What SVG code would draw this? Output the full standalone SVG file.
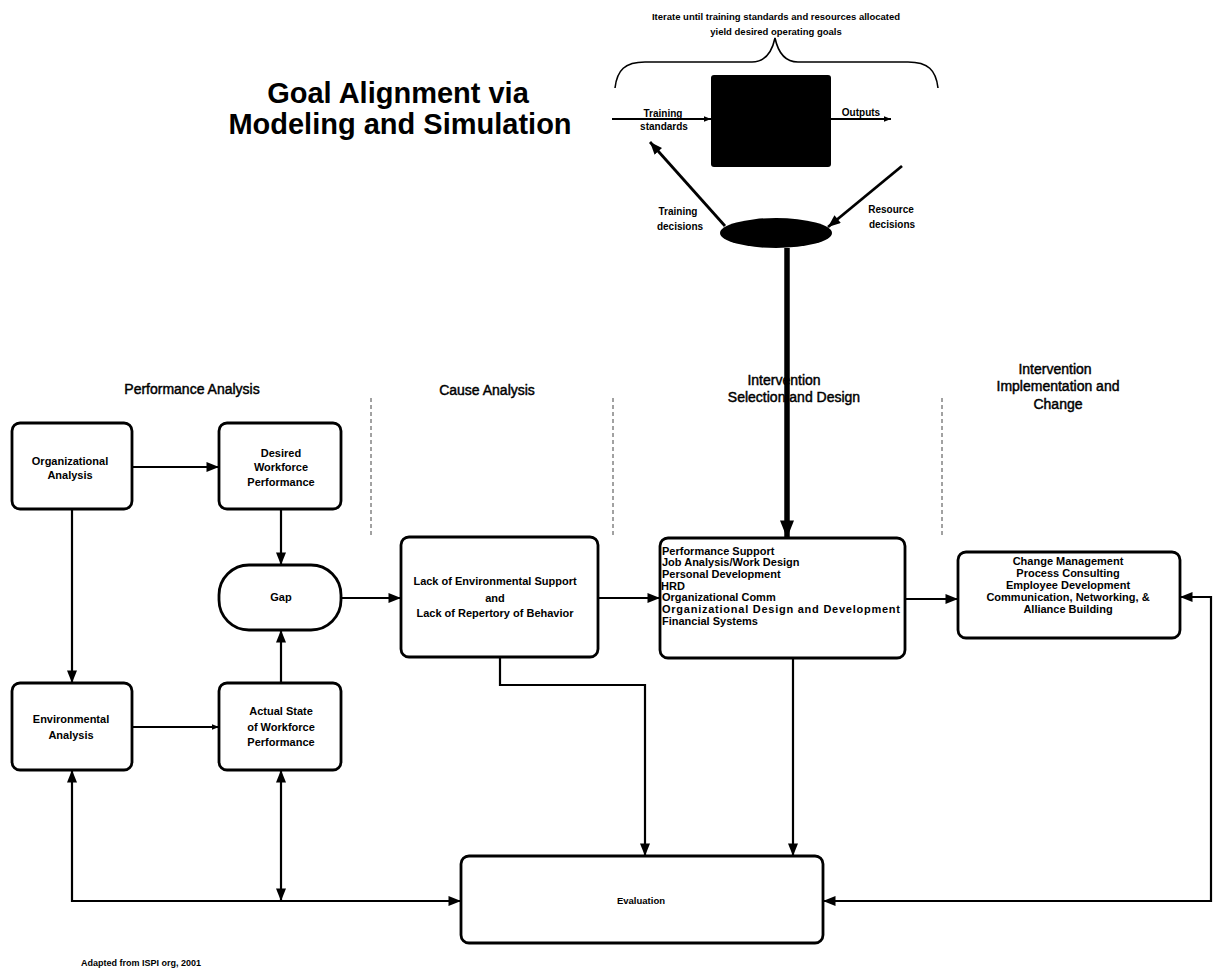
<svg xmlns="http://www.w3.org/2000/svg" width="1213" height="971" viewBox="0 0 1213 971">
  <style>
    .box { fill: #fff; stroke: #000; stroke-width: 2.8; }
    .wire { fill: none; stroke: #000; stroke-width: 2.2; }
    .sep { fill: none; stroke: #444; stroke-width: 1; stroke-dasharray: 4 3; }
    .t { font-family: "Liberation Sans", Arial, sans-serif; font-weight: bold; font-size: 11px; fill: #000; text-anchor: middle; }
    .tl { text-anchor: start; }
    .head { font-family: "Liberation Sans", Arial, sans-serif; font-size: 14px; fill: #000; stroke: #000; stroke-width: 0.45; text-anchor: middle; }
    .title { font-family: "Liberation Sans", Arial, sans-serif; font-weight: bold; font-size: 29px; fill: #000; text-anchor: middle; }
    .cap { font-family: "Liberation Sans", Arial, sans-serif; font-weight: bold; font-size: 9.5px; fill: #000; text-anchor: middle; }
    .lab { font-family: "Liberation Sans", Arial, sans-serif; font-weight: bold; font-size: 10px; fill: #000; text-anchor: middle; }
  </style>
  <defs>
    <marker id="arr" viewBox="0 0 10 8" refX="10" refY="4" markerWidth="13" markerHeight="10" markerUnits="userSpaceOnUse" orient="auto-start-reverse">
      <path d="M0,0 L10,4 L0,8 Z" fill="#000"/>
    </marker>
    <marker id="arrSmall" viewBox="0 0 10 8" refX="10" refY="4" markerWidth="7" markerHeight="6" markerUnits="userSpaceOnUse" orient="auto">
      <path d="M0,0 L10,4 L0,8 Z" fill="#000"/>
    </marker>
    <marker id="arrBig" viewBox="0 0 10 8" refX="10" refY="4" markerWidth="18" markerHeight="14" markerUnits="userSpaceOnUse" orient="auto">
      <path d="M0,0 L10,4 L0,8 Z" fill="#000"/>
    </marker>
  </defs>

  <rect width="1213" height="971" fill="#fff"/>

  <!-- Title -->
  <g id="title">
    <text class="title" x="398" y="103">Goal Alignment via</text>
    <text class="title" x="400" y="134">Modeling and Simulation</text>
  </g>

  <!-- Simulation loop -->
  <g id="sim-caption">
    <text class="cap" x="776" y="20">Iterate until training standards and  resources allocated</text>
    <text class="cap" x="776" y="35">yield desired operating goals</text>
    <path d="M615,88 C617,70 625,62 645,62 L752,62 C766,62 772,52 775,38 C778,52 784,62 798,62 L908,62 C928,62 936,70 938,88" fill="none" stroke="#000" stroke-width="1.6"/>
  </g>
  <g id="model-box">
    <rect x="711" y="75" width="120" height="92" rx="3" fill="#000"/>
  </g>
  <g id="decision-node">
    <ellipse cx="776" cy="233" rx="56" ry="15" fill="#000"/>
  </g>
  <g id="sim-labels">
    <text class="lab" x="663" y="117">Training</text>
    <text class="lab" x="664" y="130">standards</text>
    <text class="lab" x="861" y="116">Outputs</text>
    <text class="lab" x="678" y="215">Training</text>
    <text class="lab" x="680" y="230">decisions</text>
    <text class="lab" x="891" y="213">Resource</text>
    <text class="lab" x="892" y="228">decisions</text>
  </g>

  <!-- Phase headings -->
  <g id="headings">
    <text class="head" x="192" y="394">Performance Analysis</text>
    <text class="head" x="487" y="395">Cause Analysis</text>
    <text class="head" x="784" y="385">Intervention</text>
    <text class="head" x="794" y="402">Selection and Design</text>
    <text class="head" x="1055" y="374">Intervention</text>
    <text class="head" x="1058" y="391">Implementation and</text>
    <text class="head" x="1058" y="409">Change</text>
  </g>
  <g id="separators">
    <line class="sep" x1="371" y1="398" x2="371" y2="535"/>
    <line class="sep" x1="613" y1="398" x2="613" y2="535"/>
    <line class="sep" x1="942" y1="398" x2="942" y2="535"/>
  </g>

  <!-- Performance analysis nodes -->
  <g id="org-analysis">
    <rect class="box" x="12" y="423" width="120" height="86" rx="8"/>
    <text class="t" x="70" y="465">Organizational</text>
    <text class="t" x="70" y="479">Analysis</text>
  </g>
  <g id="desired-performance">
    <rect class="box" x="219" y="423" width="122" height="86" rx="8"/>
    <text class="t" x="281" y="457">Desired</text>
    <text class="t" x="281" y="471">Workforce</text>
    <text class="t" x="281" y="486">Performance</text>
  </g>
  <g id="gap">
    <rect class="box" x="219" y="565" width="122" height="65" rx="30"/>
    <text class="t" x="281" y="601">Gap</text>
  </g>
  <g id="env-analysis">
    <rect class="box" x="12" y="683" width="120" height="87" rx="8"/>
    <text class="t" x="71" y="723">Environmental</text>
    <text class="t" x="71" y="739">Analysis</text>
  </g>
  <g id="actual-performance">
    <rect class="box" x="219" y="683" width="122" height="87" rx="8"/>
    <text class="t" x="281" y="715">Actual State</text>
    <text class="t" x="281" y="731">of Workforce</text>
    <text class="t" x="281" y="746">Performance</text>
  </g>

  <!-- Cause analysis -->
  <g id="cause">
    <rect class="box" x="401" y="537" width="197" height="120" rx="8"/>
    <text class="t" x="495" y="585">Lack of Environmental Support</text>
    <text class="t" x="495" y="602">and</text>
    <text class="t" x="495" y="617">Lack of Repertory of Behavior</text>
  </g>

  <!-- Intervention selection -->
  <g id="intervention">
    <rect class="box" x="660" y="538" width="245" height="120" rx="8"/>
    <text class="t tl" x="662" y="555">Performance Support</text>
    <text class="t tl" x="662" y="566">Job Analysis/Work Design</text>
    <text class="t tl" x="662" y="578">Personal Development</text>
    <text class="t tl" x="661" y="590">HRD</text>
    <text class="t tl" x="662" y="601">Organizational Comm</text>
    <text class="t tl" x="662" y="613" textLength="238" lengthAdjust="spacing">Organizational Design and Development</text>
    <text class="t tl" x="662" y="625">Financial Systems</text>
  </g>

  <!-- Implementation and change -->
  <g id="change">
    <rect class="box" x="958" y="552" width="222" height="86" rx="8"/>
    <text class="t" x="1068" y="565">Change Management</text>
    <text class="t" x="1068" y="577">Process Consulting</text>
    <text class="t" x="1068" y="589">Employee Development</text>
    <text class="t" x="1068" y="601">Communication, Networking, &amp;</text>
    <text class="t" x="1068" y="613">Alliance Building</text>
  </g>

  <!-- Evaluation -->
  <g id="evaluation">
    <rect class="box" x="461" y="856" width="362" height="87" rx="8"/>
    <text class="t" x="641" y="904" style="font-size:9.5px">Evaluation</text>
  </g>

  <!-- Connectors -->
  <g id="connectors">
    <path class="wire" d="M612,119 H711" marker-end="url(#arrSmall)"/>
    <path class="wire" d="M831,119 H891" marker-end="url(#arrSmall)"/>
    <path class="wire" d="M725,226 L650,142" style="stroke-width:2.8" marker-end="url(#arr)"/>
    <path class="wire" d="M902,166 L828,227" style="stroke-width:2.8" marker-end="url(#arr)"/>
    <path class="wire" d="M787,248 V538" style="stroke-width:5.5" marker-end="url(#arrBig)"/>

    <path class="wire" d="M132,467 H219" marker-end="url(#arr)"/>
    <path class="wire" d="M72,509 V683" marker-end="url(#arr)"/>
    <path class="wire" d="M281,509 V565" marker-end="url(#arr)"/>
    <path class="wire" d="M132,727 H219" marker-end="url(#arrSmall)"/>
    <path class="wire" d="M281,683 V630" marker-end="url(#arr)"/>
    <path class="wire" d="M341,598 H401" marker-end="url(#arr)"/>
    <path class="wire" d="M598,598 H660" marker-end="url(#arr)"/>
    <path class="wire" d="M905,599 H958" marker-end="url(#arr)"/>
    <path class="wire" d="M500,657 V685 H645 V856" marker-end="url(#arr)"/>
    <path class="wire" d="M793,658 V856" marker-end="url(#arr)"/>
    <path class="wire" d="M823,901 H1211 V597 H1180" marker-start="url(#arr)" marker-end="url(#arr)"/>
    <path class="wire" d="M461,901 H72 V770" marker-start="url(#arr)" marker-end="url(#arr)"/>
    <path class="wire" d="M281,901 V770" marker-start="url(#arr)" marker-end="url(#arr)"/>
  </g>

  <g id="credit">
    <text class="t tl" x="81" y="966" style="font-size:9px">Adapted from ISPI org, 2001</text>
  </g>
</svg>
